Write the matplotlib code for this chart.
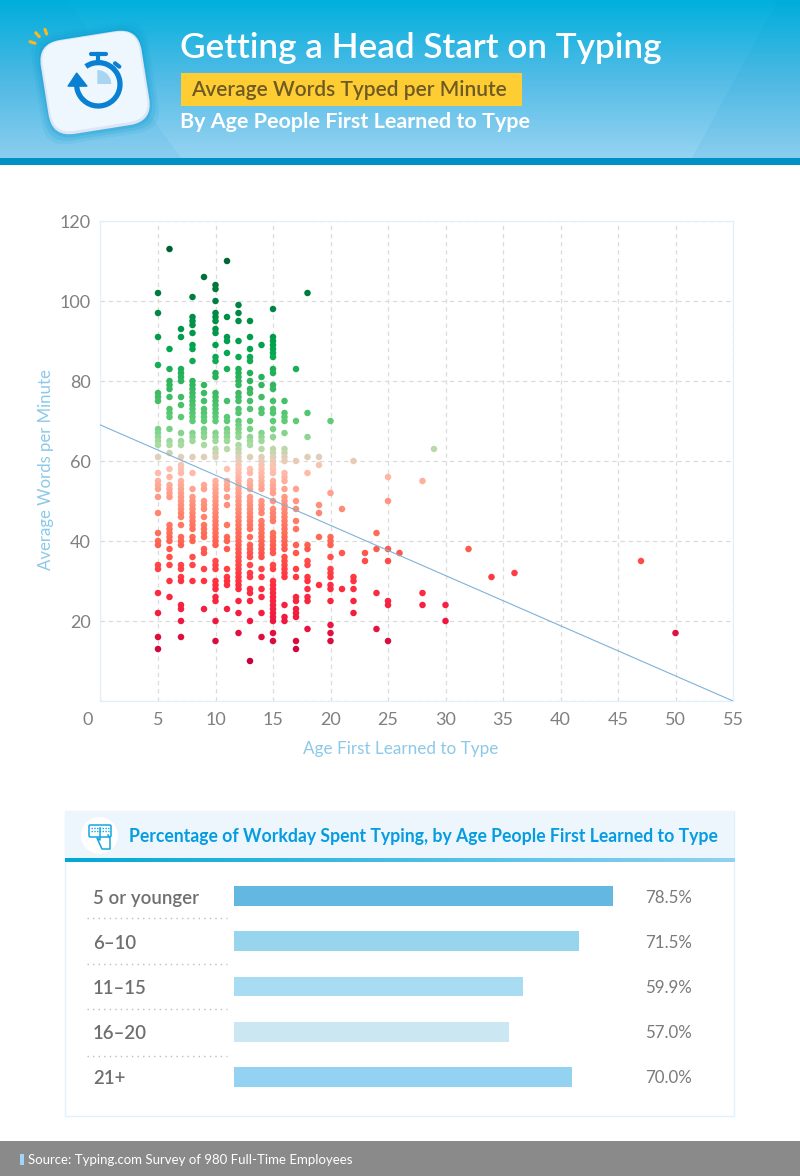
import numpy as np
import matplotlib
matplotlib.use("Agg")
import matplotlib.pyplot as plt
from matplotlib.colors import LinearSegmentedColormap
from matplotlib.patches import Rectangle, Polygon, FancyBboxPatch, Circle, Wedge, Arc
from matplotlib.transforms import Affine2D, ScaledTranslation

W, H = 800, 1176
FONT = "Lato"
plt.rcParams["font.family"] = [FONT, "DejaVu Sans"]

# ---------- data ----------
wpm_by_age = {
    5: [102,97,91,84,77,76,75,68,67,66,65,64,61,57,55,54,53,51,47,42,40,39,34,33,27,22,16,13],
    6: [113,88,83,80,79,78,76,73,72,71,68,65,64,62,58,56,54,53,52,51,44,43,42,41,40,38,36,34,30,26],
    7: [93,91,83,82,81,80,76,74,71,67,65,64,61,59,58,57,55,54,53,52,51,50,49,48,47,46,44,41,40,39,34,33,31,30,24,23,20,16],
    8: [101,96,95,94,92,89,88,85,80,79,78,77,76,75,74,73,72,71,70,67,66,65,61,57,53,51,50,49,48,47,46,45,44,43,41,40,36,34,30],
    9: [106,79,77,75,73,72,71,70,68,67,66,64,61,54,53,50,49,48,46,44,43,42,41,38,37,33,30,23],
    10: [104,103,100,97,96,95,93,92,89,86,85,82,81,77,76,75,74,73,72,71,70,67,66,65,63,62,61,55,54,53,52,51,50,49,48,47,46,45,44,43,42,41,40,39,35,34,33,30,29,28,26,25,20,15],
    11: [110,96,91,90,87,83,75,71,70,68,67,66,65,63,58,55,54,53,51,49,44,41,40,38,33,31,30,29,23],
    12: [99,97,95,90,86,83,82,81,80,79,77,76,75,73,72,70,69,68,67,66,64,63,62,61,60,59,58,57,56,55,54,53,52,51,50,49,48,47,46,45,44,43,42,41,40,39,38,37,36,35,34,33,32,31,30,29,28,25,22,17],
    13: [95,91,88,86,85,82,80,78,77,75,73,70,68,66,65,64,61,58,57,55,54,53,51,50,49,48,47,46,45,44,43,41,39,38,37,36,34,32,31,28,27,25,20,10],
    14: [89,81,79,76,73,72,67,66,65,63,61,60,59,58,57,56,55,54,53,50,49,48,47,45,44,43,42,41,40,39,38,37,36,33,31,28,26,22,16],
    15: [98,91,90,89,88,87,86,83,82,79,78,75,73,72,70,68,66,63,62,61,60,59,58,57,55,54,53,52,50,48,47,46,45,42,41,40,39,38,37,34,33,30,29,28,27,26,25,24,23,22,21,20,17,15],
    16: [75,72,71,70,67,63,62,61,60,57,56,55,53,51,50,49,48,47,46,45,44,43,42,41,40,39,38,36,35,34,33,32,31,24,21,20],
    17: [83,70,60,53,50,48,45,43,39,37,33,31,26,25,23,22,21,15,13],
    18: [102,72,66,61,57,39,38,35,34,31,30,28,26,25,18],
    19: [61,59,49,47,41,29],
    20: [70,52,41,40,39,36,33,32,31,29,28,25,19,17,15],
    21: [48,37,28],
    22: [60,31,30,28,25,22],
    23: [37,35],
    24: [42,38,27,18],
    25: [56,50,38,35,25,24,15],
    26: [37],
    28: [55,27,24],
    29: [63],
    30: [24,20],
    32: [38],
    34: [31],
    36: [32],
    47: [35],
    50: [17],
}
trend_x = [0, 55]
trend_y = [69, 0]

age_groups = ["5 or younger", "6–10", "11–15", "16–20", "21+"]
pct_typing = [78.5, 71.5, 59.9, 57.0, 70.0]
bar_colors = ["#62b8e1", "#97d5ee", "#a7dcf2", "#cae7f2", "#93d2f0"]

# ---------- helpers ----------
fig = plt.figure(figsize=(W / 100, H / 100), dpi=100, facecolor="white")

def px_axes(l, t, r, b, **kw):
    return fig.add_axes([l / W, 1 - b / H, (r - l) / W, (b - t) / H], **kw)

bg = fig.add_axes([0, 0, 1, 1], zorder=0)
bg.set_xlim(0, W)
bg.set_ylim(H, 0)
bg.axis("off")

# ---------- header ----------
grad = np.linspace(0, 1, 256)[:, None]
hdr_cmap = LinearSegmentedColormap.from_list("hdr", ["#00b0dd", "#53bce6", "#96d3f2"])
bg.imshow(grad, cmap=hdr_cmap, extent=[0, W, 158, 0], aspect="auto", zorder=1)
bg.set_xlim(0, W)
bg.set_ylim(H, 0)
bg.add_patch(Polygon([[0, 0], [66, 0], [181, 158], [0, 158]], fc="#0094c8", alpha=0.07, ec="none", zorder=2))
bg.add_patch(Polygon([[800, 0], [778, 0], [692, 158], [800, 158]], fc="#0094c8", alpha=0.08, ec="none", zorder=2))
bg.add_patch(Rectangle((0, 158), W, 7, fc="#0091c4", ec="none", zorder=2))

# icon card
rot = Affine2D().rotate_deg_around(95, 82, -9) + bg.transData
for grow, col, a in [(9, "#0098d0", 0.10), (6, "#0098d0", 0.15), (3, "#0098d0", 0.2)]:
    bg.add_patch(FancyBboxPatch((45 - grow, 36 - grow), 100 + 2 * grow, 94 + 2 * grow,
                                boxstyle="round,pad=0,rounding_size=24", fc=col, ec="none",
                                alpha=a, transform=rot, zorder=3))
bg.add_patch(FancyBboxPatch((44, 35), 102, 95, boxstyle="round,pad=0,rounding_size=23",
                            fc="#dde5f6", ec="none", transform=rot, zorder=4))
bg.add_patch(FancyBboxPatch((46, 36), 98, 91, boxstyle="round,pad=0,rounding_size=21",
                            fc="#eff7fe", ec="none", transform=rot, zorder=5))
# sparks
for (x0, y0, x1, y1) in [(30, 41.7, 35, 43.3), (35.7, 32.7, 39.3, 36.7), (45, 29.3, 46.7, 34)]:
    bg.plot([x0, x1], [y0, y1], color="#fcb919", lw=2.2, solid_capstyle="round", zorder=5)
# stopwatch
blue = "#0a80d2"
cx, cy, r = 98.3, 84.3, 21.7
bg.add_patch(Arc((cx, cy), 2 * r, 2 * r, angle=0, theta1=-125, theta2=180, color=blue, lw=3.8, zorder=6))
bg.add_patch(Polygon([[68.3, 86], [86.7, 86], [76.7, 73.3]], fc=blue, ec=blue, lw=1.2, joinstyle="round", zorder=7))
bg.plot([91, 106], [53.5, 53.5], color=blue, lw=3, zorder=6, solid_capstyle="round")
bg.plot([98.3, 98.3], [53.5, 63], color=blue, lw=3, zorder=6)
bg.plot([115, 119.3], [63.3, 66.7], color=blue, lw=3, zorder=6, solid_capstyle="round")
bg.add_patch(Wedge((97.3, 84), 14, 270, 360, fc="#a8d6f2", ec="none", zorder=6))

bg.text(180, 48, "Getting a Head Start on Typing", color="white", fontsize=25.3,
        fontweight="semibold", va="center", ha="left", zorder=8)
bg.add_patch(Rectangle((181, 73), 341, 33, fc="#fecd33", ec="none", zorder=7))
bg.text(191, 90, "Average Words Typed per Minute", color="#6e5a24", fontsize=15,
        fontweight="semibold", va="center", ha="left", zorder=8)
bg.text(180, 122.5, "By Age People First Learned to Type", color="white", fontsize=15.45,
        fontweight="bold", va="center", ha="left", zorder=8)

# ---------- scatter ----------
ax = px_axes(100.5, 221, 733, 701, zorder=2)
ax.patch.set_alpha(0)
ages = np.concatenate([[a] * len(v) for a, v in wpm_by_age.items()])
wpm = np.concatenate([v for v in wpm_by_age.values()])
stops = [(10, "#c4003a"), (20, "#f01840"), (30, "#ff3340"), (42, "#ff6e58"), (52, "#ff9f8c"),
         (58, "#ffc0b0"), (61, "#dcd0b8"), (64, "#a8dca0"), (70, "#5fcc78"), (78, "#38b860"),
         (88, "#00a650"), (100, "#008040"), (113, "#006030")]
cmap = LinearSegmentedColormap.from_list("wpm", [((v - 10) / 103, c) for v, c in stops])
ax.scatter(ages, wpm, c=wpm, cmap=cmap, vmin=10, vmax=113, s=22, edgecolors="none", zorder=3, clip_on=False)
ax.plot(trend_x, trend_y, color="#7fb2d8", lw=0.8, zorder=4)
ax.set_xlim(0, 55)
ax.set_ylim(0, 120)
ax.set_xticks(range(0, 56, 5))
ax.set_yticks([0, 20, 40, 60, 80, 100, 120])
ax.set_yticklabels(["", "20", "40", "60", "80", "100", "120"])
ax.grid(True, color="#dcdcdc", ls=(0, (3.5, 3)), lw=0.9, zorder=0)
ax.tick_params(length=0, labelsize=13, labelcolor="#808080")
ax.tick_params(axis="x", pad=8)
ax.tick_params(axis="y", pad=7.2)
zero = ax.get_xticklabels()[0]
zero.set_transform(zero.get_transform() + ScaledTranslation(-12.5 / 100, 0, fig.dpi_scale_trans))
for s in ax.spines.values():
    s.set_color("#e0f0fb")
    s.set_linewidth(0.9)
ax.set_xlabel("Age First Learned to Type", color="#8cc9e8", fontsize=12.3)
ax.set_ylabel("Average Words per Minute", color="#8cc9e8", fontsize=12.1)
ax.xaxis.set_label_coords((401 - 100.5) / 632.5, -(749 - 701) / 480, transform=ax.transAxes)
ax.xaxis.label.set_va("center")
ax.yaxis.set_label_coords((46 - 100.5) / 632.5, (701 - 470) / 480, transform=ax.transAxes)
ax.yaxis.label.set_va("center")

# ---------- bar panel ----------
bg.add_patch(Rectangle((65, 811), 669, 305, fc="white", ec="#e2f0fb", lw=1, zorder=1))
bg.add_patch(Rectangle((65, 811), 669, 47, fc="#eef6fd", ec="none", zorder=1))
strip = np.linspace(0, 1, 256)[None, :]
strip_cmap = LinearSegmentedColormap.from_list("strip", ["#00a8d8", "#8fd2f0"])
bg.imshow(strip, cmap=strip_cmap, extent=[65, 735, 862, 858], aspect="auto", zorder=2)
bg.set_xlim(0, W)
bg.set_ylim(H, 0)
bg.add_patch(Circle((99.5, 835.5), 18.5, fc="white", ec="none", zorder=3))
kb = "#14a5e0"
bg.add_patch(FancyBboxPatch((89, 825), 22, 12, boxstyle="round,pad=0,rounding_size=1.5",
                            fc="none", ec=kb, lw=1.1, zorder=4))
bg.plot([91, 109], [828, 828], color=kb, lw=1, ls=(0, (1, 1)), zorder=4)
bg.plot([91, 109], [831, 831], color=kb, lw=1, ls=(0, (1, 1)), zorder=4)
bg.plot([100, 100, 97, 102, 110, 110, 108], [828, 840, 838, 849, 849, 838, 835], color=kb, lw=1.1, zorder=5)
bg.text(129, 836.5, "Percentage of Workday Spent Typing, by Age People First Learned to Type",
        color="#059ce0", fontsize=12.7, fontweight="bold", va="center", ha="left", zorder=4)

bax = px_axes(234, 873.5, 234 + 4.828 * 100, 1099.5, zorder=2)
bax.patch.set_alpha(0)
ypos = np.arange(len(age_groups))
bax.barh(ypos, pct_typing, height=0.44, color=bar_colors, edgecolor="none")
bax.set_xlim(0, 100)
bax.set_ylim(len(age_groups) - 0.5, -0.5)
bax.axis("off")
for i, (g, p) in enumerate(zip(age_groups, pct_typing)):
    bax.annotate(f"{p:.1f}%", (0, i), xycoords=("axes fraction", "data"), xytext=(645 - 234, -1.5),
                 textcoords="offset pixels", color="#7a7a7a", fontsize=12.2, va="center", ha="left")
    bax.annotate(g, (0, i), xycoords=("axes fraction", "data"), xytext=(93 - 234, -2),
                 textcoords="offset pixels", color="#6f6f6f", fontsize=13.4, fontweight="semibold", va="center", ha="left")
for y in [917.5, 963.5, 1008.5, 1055.5]:
    bg.plot([87, 227], [y, y], color="#bdbdbd", lw=1, ls=(0, (1, 3)), zorder=2)

# ---------- footer ----------
bg.add_patch(Rectangle((0, 1141), W, 35, fc="#8a8a8a", ec="none", zorder=1))
bg.add_patch(Rectangle((20, 1154), 4, 11, fc="#9fd6f5", ec="none", zorder=2))
bg.text(28, 1160, "Source: Typing.com Survey of 980 Full-Time Employees", color="white",
        fontsize=9.55, va="center", ha="left", zorder=2)

fig.savefig("out.png", dpi=100)
